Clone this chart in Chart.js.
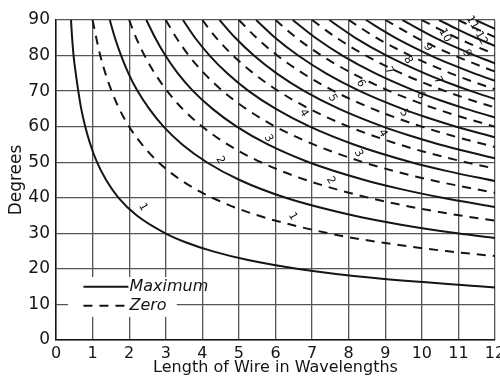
<!DOCTYPE html>
<html>
<head>
<meta charset="utf-8">
<script src="https://cdn.jsdelivr.net/npm/chart.js@4/dist/chart.umd.min.js"></script>
<style>
html,body{margin:0;padding:0;background:#fff;}
#wrap{width:500px;height:377px;}
</style>
</head>
<body>
<div id="wrap"><canvas id="c" width="500" height="377"></canvas></div>
<script>
// Axis ticks
const xTicks = [0,1,2,3,4,5,6,7,8,9,10,11,12];
const yTicks = [0,10,20,30,40,50,60,70,80,90];

// Maximum curves (solid): [wavelengths, degrees]
const maximum1 = [[0.41,90],[0.44,85],[0.48,80],[0.54,75],[0.61,70],[0.69,65],[0.80,60],[0.94,55],[1.12,50],[1.37,45],[1.71,40],[2.21,35],[2.99,30],[3.54,27.5],[4.27,25],[5.25,22.5],[6.63,20],[8.64,17.5],[11.74,15],[12,14.8]];
const maximum2 = [[1.47,90],[1.61,85],[1.78,80],[1.98,75],[2.23,70],[2.55,65],[2.94,60],[3.45,55],[4.12,50],[5.02,45],[6.28,40],[8.13,35],[9.39,32.5],[10.97,30],[12,28.7]];
const maximum3 = [[2.47,90],[2.71,85],[2.99,80],[3.33,75],[3.75,70],[4.28,65],[4.94,60],[5.79,55],[6.91,50],[8.43,45],[9.40,42.5],[10.56,40],[12,37.4]];
const maximum4 = [[3.47,90],[3.80,85],[4.20,80],[4.68,75],[5.27,70],[6.01,65],[6.94,60],[8.14,55],[9.71,50],[10.70,47.5],[12,44.7]];
const maximum5 = [[4.47,90],[4.90,85],[5.41,80],[6.03,75],[6.79,70],[7.74,65],[8.94,60],[9.66,57.5],[10.48,55],[11.43,52.5],[12,51.1]];
const maximum6 = [[5.47,90],[5.99,85],[6.62,80],[7.38,75],[8.31,70],[9.47,65],[10.16,62.5],[10.94,60],[11.82,57.5],[12,57.0]];
const maximum7 = [[6.47,90],[7.09,85],[7.83,80],[8.73,75],[9.83,70],[10.48,67.5],[11.21,65],[12,62.6]];
const maximum8 = [[7.47,90],[8.18,85],[9.04,80],[10.08,75],[10.68,72.5],[11.35,70],[12,67.8]];
const maximum9 = [[8.47,90],[9.28,85],[10.25,80],[10.81,77.5],[11.43,75],[12,72.9]];
const maximum10 = [[9.47,90],[10.37,85],[10.89,82.5],[11.46,80],[12,77.8]];
const maximum11 = [[10.47,90],[10.95,87.5],[11.47,85],[12,82.7]];
const maximum12 = [[11.47,90],[11.73,88.75],[12,87.5]];

// Zero curves (dashed)
const zero1 = [[1,90],[1.10,85],[1.21,80],[1.35,75],[1.52,70],[1.73,65],[2.00,60],[2.35,55],[2.80,50],[3.41,45],[4.27,40],[5.53,35],[7.46,30],[8.85,27.5],[10.67,25],[12,23.6]];
const zero2 = [[2,90],[2.19,85],[2.42,80],[2.70,75],[3.04,70],[3.46,65],[4.00,60],[4.69,55],[5.60,50],[6.83,45],[8.55,40],[9.68,37.5],[11.06,35],[12,33.6]];
const zero3 = [[3,90],[3.29,85],[3.63,80],[4.05,75],[4.56,70],[5.20,65],[6.00,60],[7.04,55],[8.40,50],[9.25,47.5],[10.24,45],[12,41.4]];
const zero4 = [[4,90],[4.38,85],[4.84,80],[5.40,75],[6.08,70],[6.93,65],[8.00,60],[9.38,55],[10.22,52.5],[11.20,50],[12,48.2]];
const zero5 = [[5,90],[5.48,85],[6.05,80],[6.75,75],[7.60,70],[8.66,65],[9.29,62.5],[10.00,60],[10.81,57.5],[11.73,55],[12,54.3]];
const zero6 = [[6,90],[6.57,85],[7.26,80],[8.10,75],[9.12,70],[9.72,67.5],[10.39,65],[11.15,62.5],[12,60]];
const zero7 = [[7,90],[7.67,85],[8.47,80],[9.44,75],[10.01,72.5],[10.64,70],[11.34,67.5],[12,65.4]];
const zero8 = [[8,90],[8.76,85],[9.68,80],[10.21,77.5],[10.79,75],[11.44,72.5],[12,70.5]];
const zero9 = [[9,90],[9.86,85],[10.35,82.5],[10.89,80],[11.49,77.5],[12,75.5]];
const zero10 = [[10,90],[10.46,87.5],[10.95,85],[11.50,82.5],[12,80.4]];
const zero11 = [[11,90],[11.50,87.5],[12,85.2]];

// Hand-written curve numbers [x, y, text]
const curveLabels = [
  [2.38,37.4,'1'],[4.49,50.6,'2'],[5.81,56.7,'3'],[6.77,63.8,'4'],[7.56,68.0,'5'],
  [8.33,72.2,'6'],[9.10,75.8,'7'],[9.62,78.7,'8'],[10.16,82.3,'9'],[10.63,85.7,'10'],
  [6.47,34.8,'1'],[7.51,44.9,'2'],[8.27,52.5,'3'],[8.93,58.1,'4'],[9.51,63.8,'5'],
  [9.97,68.8,'6'],[10.44,73.0,'7'],[11.23,80.6,'9'],[11.5,87.1,'11-12']
];

// Legend entries
const legendNames = ['Maximum','Zero'];

const maxCurves = [maximum1,maximum2,maximum3,maximum4,maximum5,maximum6,maximum7,maximum8,maximum9,maximum10,maximum11,maximum12];
const zeroCurves = [zero1,zero2,zero3,zero4,zero5,zero6,zero7,zero8,zero9,zero10,zero11];

const INK = '#151515';
const GRID = '#555';
const DASH = [9,7];

function mk(curve, dashed){
  return {
    data: curve.map(p => ({x:p[0], y:p[1]})),
    borderColor: INK, borderWidth: 2, borderDash: dashed ? DASH : [],
    pointRadius: 0, fill: false, cubicInterpolationMode: 'monotone'
  };
}
const datasets = maxCurves.map(c => mk(c,false)).concat(zeroCurves.map(c => mk(c,true)));

const overlay = {
  id: 'overlay',
  afterDatasetsDraw(chart){
    const ctx = chart.ctx, xs = chart.scales.x, ys = chart.scales.y;
    // legend box
    ctx.save();
    const l = xs.getPixelForValue(0.33), r = xs.getPixelForValue(3.3);
    const t = ys.getPixelForValue(17.7), b = ys.getPixelForValue(6.5);
    ctx.fillStyle = '#fff';
    ctx.fillRect(l, t, r - l, b - t);
    ctx.strokeStyle = INK; ctx.lineWidth = 2;
    const x0 = xs.getPixelForValue(0.75), x1 = xs.getPixelForValue(1.98);
    const yM = ys.getPixelForValue(15.0), yZ = ys.getPixelForValue(9.6);
    ctx.beginPath(); ctx.moveTo(x0, yM); ctx.lineTo(x1, yM); ctx.stroke();
    ctx.setLineDash(DASH);
    ctx.beginPath(); ctx.moveTo(x0, yZ); ctx.lineTo(x1, yZ); ctx.stroke();
    ctx.setLineDash([]);
    ctx.fillStyle = INK;
    ctx.font = 'italic 16px "DejaVu Sans"';
    ctx.textBaseline = 'middle'; ctx.textAlign = 'left';
    ctx.fillText(legendNames[0], x1 + 1, yM);
    ctx.fillText(legendNames[1], x1 + 1, yZ);
    // curve labels
    ctx.font = '11px "DejaVu Sans"';
    ctx.textAlign = 'center';
    curveLabels.forEach(([x, y, s]) => {
      ctx.save();
      ctx.translate(xs.getPixelForValue(x), ys.getPixelForValue(y));
      ctx.rotate(Math.PI / 3);
      ctx.fillText(s, 0, 0);
      ctx.restore();
    });
    ctx.restore();
  }
};

new Chart(document.getElementById('c'), {
  type: 'line',
  data: { datasets },
  options: {
    responsive: false, animation: false, devicePixelRatio: 1,
    layout: { padding: { top: 20, right: 5, left: 0, bottom: 0 } },
    plugins: { legend: { display: false }, tooltip: { enabled: false } },
    scales: {
      x: {
        type: 'linear', min: 0, max: 12,
        afterBuildTicks: s => { s.ticks = xTicks.map(v => ({value: v})); },
        ticks: { color: INK, font: { family: 'DejaVu Sans', size: 16 }, padding: 4, maxRotation: 0 },
        grid: { color: GRID, lineWidth: 1.3, drawTicks: false },
        border: { color: INK, width: 1.5 },
        title: { display: true, text: 'Length of Wire in Wavelengths', color: INK,
                 font: { family: 'DejaVu Sans', size: 16, lineHeight: 1.2 }, padding: 0 },
        afterFit: s => { s.height = 37; s.paddingLeft = 0; s.paddingRight = 0; }
      },
      y: {
        type: 'linear', min: 0, max: 90,
        afterBuildTicks: s => { s.ticks = yTicks.map(v => ({value: v})); },
        ticks: { color: INK, font: { family: 'DejaVu Sans', size: 17 }, padding: 6 },
        grid: { color: GRID, lineWidth: 1.3, drawTicks: false },
        border: { color: INK, width: 1.5 },
        title: { display: true, text: 'Degrees', color: INK,
                 font: { family: 'DejaVu Sans', size: 17, lineHeight: 1.2 }, padding: { top: 6, bottom: 0 } },
        afterFit: s => { s.width = 56; s.paddingTop = 0; s.paddingBottom = 0; }
      }
    }
  },
  plugins: [overlay]
});
</script>
</body>
</html>
